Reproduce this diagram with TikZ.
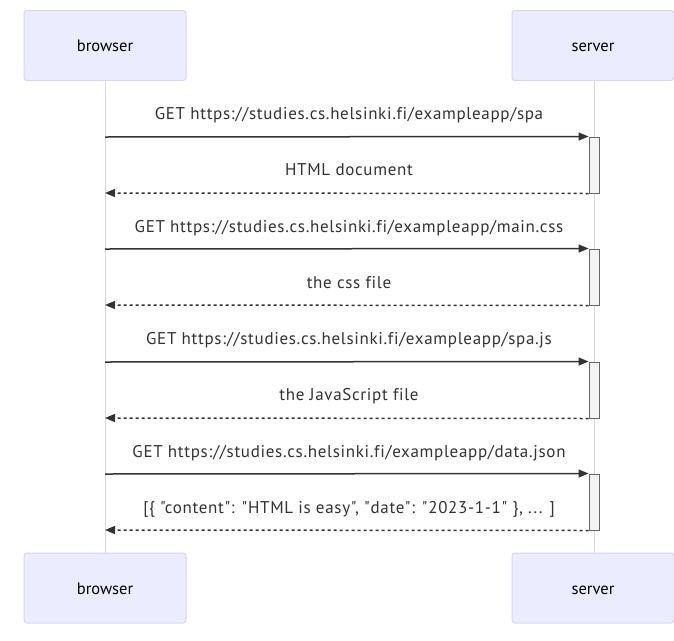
\documentclass[tikz,border=0pt]{standalone}
\usepackage{fontspec}
\setmainfont{PT Sans}
\newfontfamily\lblfont[LetterSpace=4,Ligatures=NoCommon]{PT Sans}
\usetikzlibrary{arrows.meta}
\definecolor{actfill}{HTML}{ECECFF}
\definecolor{actdraw}{HTML}{DCD3F7}
\definecolor{life}{HTML}{DCD3F7}
\definecolor{msg}{HTML}{333333}
\definecolor{actv}{HTML}{F4F4F4}
\definecolor{actvb}{HTML}{666666}
\tikzset{
  actor/.style={draw=actdraw, fill=actfill, line width=1pt, rounded corners=3pt, minimum width=162pt, minimum height=70pt, text=black, inner sep=0pt},
  actortext/.style={font=\fontsize{16.5}{19}\selectfont, text=black, inner sep=0pt},
  lifeline/.style={draw=life, line width=1pt},
  req/.style={draw=msg, line width=1.5pt, -{Triangle[length=10pt,width=8pt]}},
  resp/.style={draw=msg, line width=1.5pt, dash pattern=on 3pt off 3pt, -{Triangle[length=10pt,width=8pt]}},
  lbl/.style={font=\lblfont\fontsize{17}{19}\selectfont, text=msg, inner sep=0pt, anchor=base},
  activ/.style={draw=actvb, fill=actv, line width=1pt}
}
\begin{document}
\begin{tikzpicture}[x=1pt,y=-1pt]
\useasboundingbox (0,0) rectangle (674,640);
\fill[white] (0,0) rectangle (674,640);
% lifelines
\coordinate (bt) at (105,80); \coordinate (bb) at (105,553);
\coordinate (st) at (594,80); \coordinate (sb) at (594,553);
\draw[lifeline] (bt) -- (bb);
\draw[lifeline] (st) -- (sb);
% actors
\node[actor] (b1) at (105,45.5) {};
\node[actor] (s1) at (593,45.5) {};
\node[actor] (b2) at (105,588) {};
\node[actor] (s2) at (593,588) {};
\node[actortext, anchor=base] at (105,51.5) {browser};
\node[actortext, anchor=base] at (593,51.5) {server};
\node[actortext, anchor=base] at (105,594) {browser};
\node[actortext, anchor=base] at (593,594) {server};
% activations
\foreach \i/\ya/\yb in {1/137/193, 2/249/305, 3/362/418, 4/474/530}{
  \node[activ, minimum width=10pt, minimum height={\yb-\ya}, inner sep=0pt] (a\i) at (594,{(\ya+\yb)/2}) {};
  \coordinate (bl\i) at (105,\ya);
  \coordinate (br\i) at (105,\yb);
}
% messages
\draw[req] (bl1) -- (a1.north west);
\draw[resp] (a1.south west) -- (br1);
\draw[req] (bl2) -- (a2.north west);
\draw[resp] (a2.south west) -- (br2);
\draw[req] (bl3) -- (a3.north west);
\draw[resp] (a3.south west) -- (br3);
\draw[req] (bl4) -- (a4.north west);
\draw[resp] (a4.south west) -- (br4);
% labels
\node[lbl] (l1) at (349,119) {GET https://studies.cs.helsinki.fi/exampleapp/spa};
\node[lbl] (l2) at (349,175) {HTML document};
\node[lbl] (l3) at (349,232) {GET https://studies.cs.helsinki.fi/exampleapp/main.css};
\node[lbl] (l4) at (349,288) {the css file};
\node[lbl] (l5) at (349,344) {GET https://studies.cs.helsinki.fi/exampleapp/spa.js};
\node[lbl] (l6) at (349,400) {the JavaScript file};
\node[lbl] (l7) at (349,457) {GET https://studies.cs.helsinki.fi/exampleapp/data.json};
\node[lbl] (l8) at (349,513) {[\{ "content": "HTML is easy", "date": "2023-1-1" \}, ... ]};
\end{tikzpicture}
\end{document}
